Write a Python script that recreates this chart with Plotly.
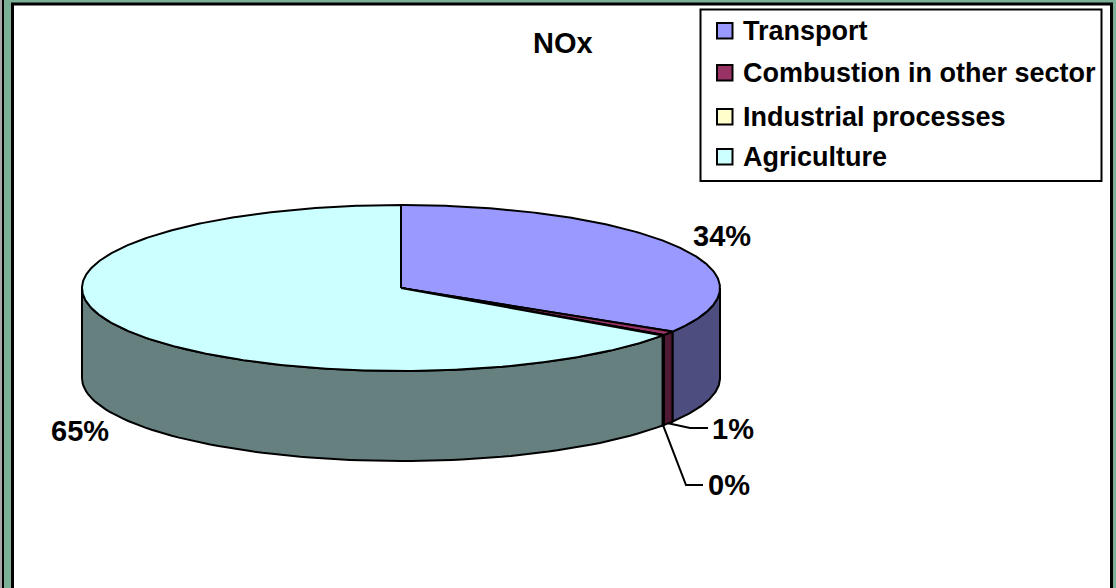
import numpy as np
import plotly.graph_objects as go

categories = ["Transport", "Combustion in other sector", "Industrial processes", "Agriculture"]
shares = [33.8, 0.8, 0.1, 65.3]
top_colors = ["#9999FF", "#993366", "#FFFFCC", "#CCFFFF"]
side_colors = ["#4D4D80", "#4D1933", "#808066", "#668080"]

# pie geometry, axes run in page pixels
cx, cy = 401, 288
rx, ry = 319, 83
depth = 90
FONT = "Liberation Sans"


def ellipse(theta, drop=0):
    # theta in degrees, clockwise from 12 o'clock
    t = np.radians(theta)
    return cx + rx * np.sin(t), cy - ry * np.cos(t) + drop


fig = go.Figure()

ends = np.cumsum(shares) * 3.6
starts = np.concatenate([[0], ends[:-1]])

# side walls, only the front half of the rim shows
for a, b, col in zip(starts, ends, side_colors):
    lo, hi = max(a, 90), min(b, 270)
    if lo >= hi:
        continue
    th = np.linspace(lo, hi, 80)
    x1, y1 = ellipse(th)
    x2, y2 = ellipse(th[::-1], depth)
    fig.add_trace(go.Scatter(
        x=np.r_[x1, x2, x1[0]], y=np.r_[y1, y2, y1[0]], mode="lines", fill="toself",
        fillcolor=col, line=dict(color="black", width=2), showlegend=False, hoverinfo="skip",
    ))

# top faces
for a, b, col, name, val in zip(starts, ends, top_colors, categories, shares):
    th = np.linspace(a, b, max(int(b - a) * 2, 4))
    x1, y1 = ellipse(th)
    fig.add_trace(go.Scatter(
        x=np.r_[cx, x1, cx], y=np.r_[cy, y1, cy], mode="lines", fill="toself",
        fillcolor=col, line=dict(color="black", width=2), showlegend=False,
        name=name, text=f"{val}%", hoverinfo="name+text",
    ))

# leader lines for the two thin slices
mids = (starts + ends) / 2
lx, ly = ellipse(mids[1], depth)
fig.add_trace(go.Scatter(x=[lx, 690, 708], y=[ly, 428, 428], mode="lines",
                         line=dict(color="black", width=2), showlegend=False, hoverinfo="skip"))
lx, ly = ellipse(mids[2], depth)
fig.add_trace(go.Scatter(x=[lx, 686, 703], y=[ly, 485, 485], mode="lines",
                         line=dict(color="black", width=2), showlegend=False, hoverinfo="skip"))

label_pos = [(722, 236), (733, 429), (729, 485), (80, 431)]
for val, (x, y) in zip(shares, label_pos):
    fig.add_annotation(x=x, y=y, text=f"{round(val)}%", showarrow=False,
                       font=dict(family=FONT, size=29, color="black", weight="bold"))
fig.add_annotation(x=563, y=43, text="NOx", showarrow=False,
                   font=dict(family=FONT, size=29, color="black", weight="bold"))

shapes = [
    dict(type="line", x0=1, y0=0, x1=1, y1=588, line=dict(color="#A8A8A8", width=2), layer="below"),
    dict(type="line", x0=3, y0=0, x1=3, y1=588, line=dict(color="black", width=2), layer="below"),
    dict(type="rect", x0=12.5, y0=4, x1=1111.5, y1=600,
         fillcolor="white", line=dict(color="black", width=3), layer="below"),
    # legend box, built by hand because the native legend can't get this tight
    dict(type="rect", x0=700.5, y0=9.5, x1=1101.5, y1=181,
         fillcolor="white", line=dict(color="black", width=2), layer="below"),
]
legend_rows = [31, 73, 117, 157]
for name, col, row in zip(categories, top_colors, legend_rows):
    shapes.append(dict(type="rect", x0=717, y0=row - 8, x1=732.5, y1=row + 7.5,
                       fillcolor=col, line=dict(color="black", width=2)))
    fig.add_annotation(x=740.5, y=row, text=name, showarrow=False, xanchor="left",
                       font=dict(family=FONT, size=27, color="black", weight="bold"))

fig.update_layout(
    width=1116, height=588, autosize=False,
    margin=dict(l=0, r=0, t=0, b=0),
    paper_bgcolor="#7BB096", plot_bgcolor="rgba(0,0,0,0)",
    xaxis=dict(range=[0, 1116], visible=False, fixedrange=True),
    yaxis=dict(range=[588, 0], visible=False, fixedrange=True),
    showlegend=False,
    shapes=shapes,
)

# page body margin would push the figure 8px off
fig.write_html("out.html", config=dict(displayModeBar=False),
               post_script="document.body.style.margin='0';document.body.style.overflow='hidden';")
